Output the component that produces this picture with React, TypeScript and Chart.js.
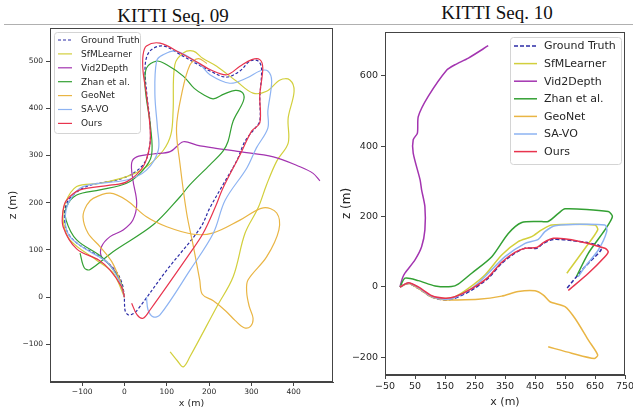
import React, { useEffect, useRef } from "react";
import { Chart, registerables } from "chart.js";
Chart.register(...registerables);

type P = [number, number];

const seriesNames = ["Ground Truth", "SfMLearner", "Vid2Depth", "Zhan et al.", "GeoNet", "SA-VO", "Ours"];
const seriesColors = ["#2c2ca6", "#d2cf3c", "#a334b0", "#33a033", "#e9b544", "#8db3f2", "#e8344e"];

// ---------- KITTI Seq. 09 ----------
const seq09GroundTruth: P[] = [[0,0],[-6,30],[-22,57],[-58,85],[-112,114],[-137,142],[-141,184],[-128,210],[-88,235],[-3,252],[44,280],[60,322],[60,373],[53,428],[49,491],[60,521],[91,532],[135,512],[179,490],[202,479],[241,466],[273,479],[297,500],[316,500],[324,485],[320,421],[320,373],[309,358],[285,330],[265,288],[233,238],[202,189],[179,146],[100,57],[30,-28],[19,-36],[10,-38],[2,-30],[0,-10],[0,0]];
const seq09SfMLearner: P[] = [[0,0],[-27,51],[-66,78],[-129,121],[-145,163],[-140,199],[-113,234],[-58,241],[5,255],[52,276],[92,311],[110,345],[115,394],[119,492],[139,517],[163,521],[185,506],[218,489],[265,457],[304,432],[336,436],[368,460],[391,460],[401,436],[387,379],[387,326],[360,288],[336,238],[316,189],[285,135],[257,43],[218,-21],[155,-126],[139,-148],[125,-135],[108,-116]];
const seq09Vid2Depth: P[] = [[0,0],[-11,36],[-30,64],[-54,85],[-54,107],[-34,128],[-3,142],[20,163],[29,199],[20,248],[17,284],[29,297],[68,303],[108,308],[139,329],[171,322],[210,316],[273,308],[352,297],[415,276],[446,262],[462,246]];
const seq09Zhan: P[] = [[0,0],[-11,36],[-50,82],[-113,121],[-138,163],[-137,191],[-113,216],[-58,227],[5,241],[44,269],[64,300],[62,358],[49,443],[52,485],[76,500],[100,492],[139,468],[165,442],[190,427],[210,420],[235,430],[262,438],[280,432],[281,415],[257,373],[245,330],[233,309],[202,280],[155,238],[131,212],[68,153],[-27,96],[-82,58],[-95,62],[-105,93]];
const seq09GeoNet: P[] = [[0,0],[-11,36],[-30,75],[-58,107],[-86,135],[-98,170],[-89,195],[-74,209],[-34,220],[5,205],[52,170],[100,149],[163,133],[210,136],[273,163],[328,189],[360,178],[365,142],[336,85],[292,36],[289,10],[295,-20],[304,-45],[298,-62],[283,-65],[262,-50],[240,-30],[210,-8],[184,6],[178,36],[163,107],[147,178],[131,284],[123,358],[135,429],[155,492],[175,505],[195,495]];
const seq09SAVO: P[] = [[0,0],[-10,30],[-39,72],[-89,100],[-129,128],[-140,160],[-132,200],[-98,234],[5,248],[52,269],[80,311],[78,358],[72,429],[76,500],[91,513],[123,521],[179,492],[202,471],[249,453],[289,464],[320,479],[339,479],[348,457],[339,394],[339,358],[312,316],[289,273],[238,205],[210,135],[155,57],[84,-38],[68,-42],[56,-28],[52,0]];
const seq09Ours: P[] = [[0,0],[-7,22],[-34,57],[-60,78],[-113,102],[-145,149],[-145,184],[-137,205],[-105,227],[-34,237],[5,244],[44,276],[60,322],[60,365],[52,429],[44,478],[44,513],[52,532],[84,538],[130,518],[179,494],[202,482],[242,471],[273,489],[301,503],[320,503],[327,485],[320,429],[320,369],[301,352],[273,301],[233,231],[214,189],[186,135],[155,93],[60,-28],[44,-45],[30,-38],[17,-13]];
const seq09XTicks = [-100, 0, 100, 200, 300, 400];
const seq09YTicks = [-100, 0, 100, 200, 300, 400, 500];

// ---------- KITTI Seq. 10 ----------
const seq10GroundTruth: P[] = [[0,0],[28,10],[61,-4],[106,-29],[150,-37],[183,-32],[239,-9],[294,25],[339,67],[383,96],[417,110],[456,110],[478,124],[511,135],[572,132],[661,119],[670,105],[617,58],[556,-4]];
const seq10SfMLearner: P[] = [[0,0],[28,11],[61,-2],[106,-27],[150,-33],[183,-28],[228,-4],[283,34],[339,91],[394,129],[439,143],[472,162],[506,176],[650,176],[659,162],[617,110],[556,39]];
const seq10Vid2Depth: P[] = [[0,0],[8,25],[17,40],[50,77],[72,114],[83,162],[83,228],[72,276],[67,304],[44,380],[44,418],[58,437],[61,484],[94,541],[156,616],[183,631],[228,650],[294,685]];
const seq10Zhan: P[] = [[0,0],[17,25],[61,18],[117,3],[172,1],[194,8],[239,39],[306,86],[361,152],[406,183],[461,186],[494,186],[528,209],[550,222],[694,214],[708,200],[683,162],[628,96],[589,31]];
const seq10GeoNet: P[] = [[0,0],[28,10],[61,-4],[106,-29],[150,-37],[172,-37],[261,-35],[339,-26],[394,-13],[450,-11],[478,-23],[500,-42],[550,-56],[583,-89],[628,-151],[659,-193],[648,-203],[572,-188],[494,-170]];
const seq10SAVO: P[] = [[0,0],[28,11],[61,-2],[106,-27],[150,-35],[183,-30],[239,-4],[283,29],[350,86],[417,124],[461,135],[483,157],[517,174],[683,176],[689,157],[661,105],[617,58],[594,29]];
const seq10Ours: P[] = [[0,0],[28,12],[61,0],[106,-25],[150,-32],[183,-28],[239,-5],[294,28],[339,70],[383,98],[417,110],[456,112],[478,126],[511,138],[572,134],[683,110],[694,100],[683,86],[628,39],[561,-10]];
const seq10XTicks = [-50, 50, 150, 250, 350, 450, 550, 650, 750];
const seq10YTicks = [-200, 0, 200, 400, 600];

const fmt = (v: number) => (v < 0 ? "\u2212" + Math.abs(v) : String(v));

const framePlugin = {
  id: "frameBox",
  afterDatasetsDraw(chart: any) {
    const { ctx, chartArea: a } = chart;
    ctx.save();
    ctx.strokeStyle = "#444";
    ctx.lineWidth = 1;
    ctx.strokeRect(Math.round(a.left) + 0.5, Math.round(a.top) + 0.5, Math.round(a.right - a.left) - 1, Math.round(a.bottom - a.top) - 1);
    ctx.restore();
  },
};

function makeLegend(o: any) {
  return {
    id: "boxLegend",
    afterDatasetsDraw(chart: any) {
      const { ctx, chartArea: a } = chart;
      const x = o.fromRight ? a.right - o.dx - o.w : a.left + o.dx;
      const y = a.top + o.dy;
      ctx.save();
      ctx.fillStyle = "rgba(255,255,255,0.9)";
      ctx.strokeStyle = "#d4d4d4";
      ctx.lineWidth = 1;
      ctx.beginPath();
      ctx.roundRect(x + 0.5, y + 0.5, o.w, o.h, 3);
      ctx.fill();
      ctx.stroke();
      chart.data.datasets.forEach((ds: any, i: number) => {
        const cy = y + o.firstY + i * o.step;
        ctx.strokeStyle = ds.borderColor;
        ctx.lineWidth = o.lw;
        ctx.setLineDash(ds.borderDash || []);
        ctx.beginPath();
        ctx.moveTo(x + o.lineX0, cy);
        ctx.lineTo(x + o.lineX1, cy);
        ctx.stroke();
        ctx.setLineDash([]);
        ctx.fillStyle = "#262626";
        ctx.font = `${o.fontSize}px "DejaVu Sans"`;
        ctx.textBaseline = "middle";
        ctx.fillText(ds.label, x + o.textX, cy + 0.5);
      });
      ctx.restore();
    },
  };
}

function buildConfig(c: any) {
  const datasets = c.series.map((pts: P[], i: number) => ({
    label: seriesNames[i],
    data: pts.map(([x, y]) => ({ x, y })),
    showLine: true,
    borderColor: seriesColors[i],
    backgroundColor: seriesColors[i],
    borderWidth: c.lw,
    borderDash: i === 0 ? c.dash : [],
    pointRadius: 0,
    tension: c.tension,
    fill: false,
    order: 6 - i,
  }));
  const tickFont = { family: "DejaVu Sans", size: c.tickSize };
  const gridOpt = { display: true, drawOnChartArea: false, drawTicks: true, tickLength: 4, color: "#444", tickColor: "#444" };
  return {
    type: "scatter",
    data: { datasets },
    options: {
      animation: false,
      responsive: false,
      maintainAspectRatio: false,
      events: [],
      layout: { padding: c.padding },
      plugins: { legend: { display: false }, tooltip: { enabled: false }, title: { display: false } },
      scales: {
        x: {
          type: "linear",
          min: c.xMin,
          max: c.xMax,
          afterBuildTicks: (s: any) => { s.ticks = c.xTicks.map((v: number) => ({ value: v })); },
          afterFit: (s: any) => { s.height = c.xAxisH; s.paddingLeft = 0; s.paddingRight = 0; },
          grid: gridOpt,
          border: { display: true, color: "#444", width: 1 },
          ticks: { font: tickFont, color: "#262626", padding: 2, maxRotation: 0, autoSkip: false, callback: (v: any) => fmt(Number(v)) },
          title: { display: true, text: "x (m)", color: "#262626", font: { family: "DejaVu Sans", size: c.xTitleSize }, padding: { top: 0, bottom: c.xTitlePad } },
        },
        y: {
          type: "linear",
          min: c.yMin,
          max: c.yMax,
          afterBuildTicks: (s: any) => { s.ticks = c.yTicks.map((v: number) => ({ value: v })); },
          afterFit: (s: any) => { s.width = c.yAxisW; s.paddingTop = 0; s.paddingBottom = 0; },
          grid: gridOpt,
          border: { display: true, color: "#444", width: 1 },
          ticks: { font: tickFont, color: "#262626", padding: 3, autoSkip: false, callback: (v: any) => fmt(Number(v)) },
          title: { display: true, text: "z (m)", color: "#262626", font: { family: "DejaVu Sans", size: c.yTitleSize }, padding: { top: c.yTitlePad, bottom: 0 } },
        },
      },
    },
    plugins: [framePlugin, makeLegend(c.legend)],
  };
}

function TrajChart(props: { cfg: any; left: number; width: number }) {
  const ref = useRef<HTMLCanvasElement | null>(null);
  useEffect(() => {
    if (!ref.current) return;
    const chart = new Chart(ref.current, buildConfig(props.cfg) as any);
    return () => chart.destroy();
  }, []);
  return (
    <canvas
      ref={ref}
      width={props.width}
      height={410}
      style={{ position: "absolute", left: props.left, top: 0, width: props.width, height: 410 }}
    />
  );
}

const cfg09 = {
  series: [seq09GroundTruth, seq09SfMLearner, seq09Vid2Depth, seq09Zhan, seq09GeoNet, seq09SAVO, seq09Ours],
  xMin: -176, xMax: 493, yMin: -180, yMax: 570,
  xTicks: seq09XTicks, yTicks: seq09YTicks,
  padding: { left: 0, top: 28, right: 2, bottom: 0 },
  yAxisW: 50, xAxisH: 28,
  tickSize: 7.5, xTitleSize: 9.5, yTitleSize: 11, xTitlePad: 1, yTitlePad: 7,
  lw: 1.2, dash: [3, 2], tension: 0.35,
  legend: { fromRight: false, dx: 4, dy: 4, w: 86, h: 101, firstY: 8, step: 13.9, lineX0: 4, lineX1: 18, textX: 27, fontSize: 9, lw: 1.2 },
};

const cfg10 = {
  series: [seq10GroundTruth, seq10SfMLearner, seq10Vid2Depth, seq10Zhan, seq10GeoNet, seq10SAVO, seq10Ours],
  xMin: -50, xMax: 750, yMin: -250, yMax: 724,
  xTicks: seq10XTicks, yTicks: seq10YTicks,
  padding: { left: 0, top: 32, right: 8, bottom: 0 },
  yAxisW: 50, xAxisH: 35,
  tickSize: 9.5, xTitleSize: 11, yTitleSize: 12, xTitlePad: 1, yTitlePad: 5,
  lw: 1.5, dash: [4, 2], tension: 0.25,
  legend: { fromRight: true, dx: 4, dy: 5, w: 111, h: 127, firstY: 9, step: 17.6, lineX0: 4, lineX1: 27, textX: 34, fontSize: 11, lw: 1.5 },
};

export default function App() {
  const titleStyle: React.CSSProperties = {
    position: "absolute",
    fontFamily: '"Liberation Serif", "Times New Roman", serif',
    fontSize: 19,
    lineHeight: "19px",
    color: "#111",
    textAlign: "center",
    width: 200,
    whiteSpace: "nowrap",
  };
  return (
    <div style={{ position: "fixed", left: 0, top: 0, width: 633, height: 410, overflow: "hidden", background: "#fff" }}>
      <div style={{ ...titleStyle, left: 73, top: 5.5 }}>KITTI Seq. 09</div>
      <div style={{ ...titleStyle, left: 397, top: 2.5 }}>KITTI Seq. 10</div>
      <div style={{ position: "absolute", left: 4, top: 24, width: 629, height: 1, background: "#b0b0b0" }} />
      <TrajChart cfg={cfg09} left={0} width={335} />
      <TrajChart cfg={cfg10} left={335} width={298} />
    </div>
  );
}
